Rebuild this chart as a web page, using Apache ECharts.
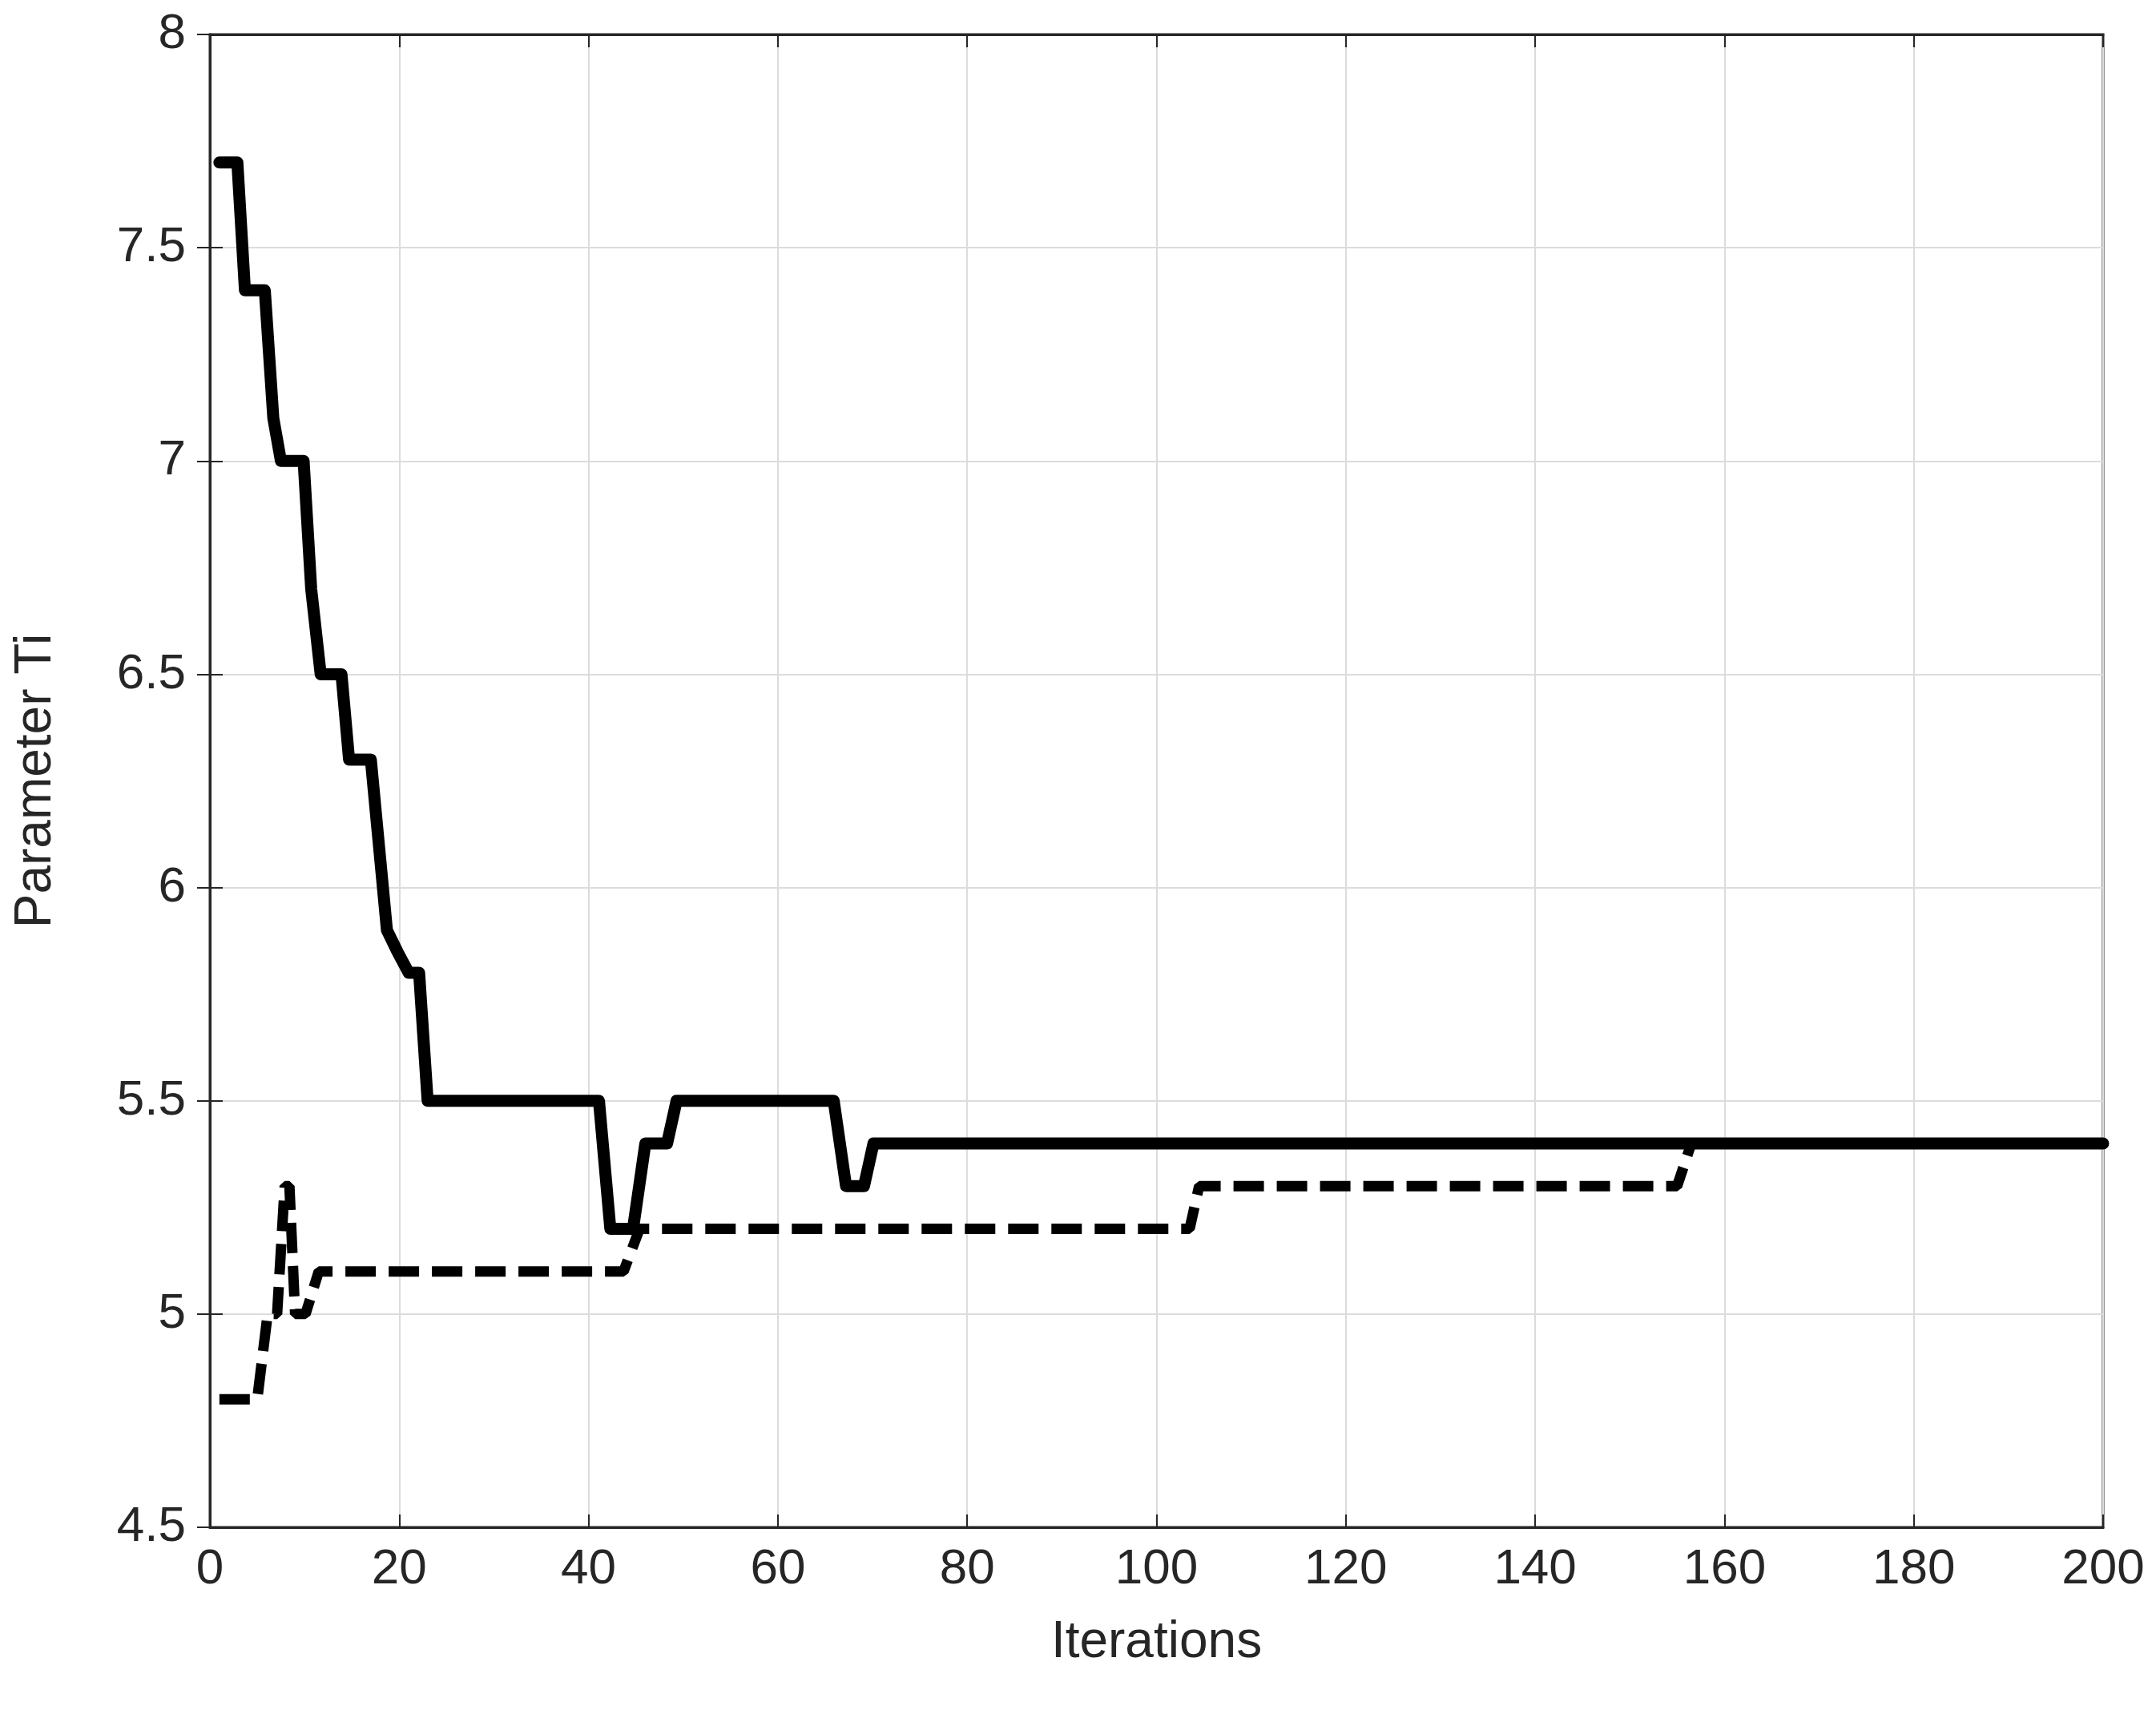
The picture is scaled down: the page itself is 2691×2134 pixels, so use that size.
<!DOCTYPE html>
<html><head><meta charset="utf-8">
<script src="https://cdn.jsdelivr.net/npm/echarts@6/dist/echarts.min.js"></script>
<style>html,body{margin:0;padding:0;background:#fff}#c{width:2691px;height:2134px}</style>
</head><body><div id="c"></div>
<script>
const solidX = [1, 2.9, 3.7, 5.8, 6.7, 7.5, 9.9, 10.7, 11.7, 13.9, 14.7, 17, 18.7, 19.8, 21, 22.1, 23, 41.1, 42.3, 44.7, 46, 48.3, 49.3, 65.9, 67.2, 69.1, 70.1, 200];
const solidY = [7.7, 7.7, 7.4, 7.4, 7.1, 7.0, 7.0, 6.7, 6.5, 6.5, 6.3, 6.3, 5.9, 5.85, 5.8, 5.8, 5.5, 5.5, 5.2, 5.2, 5.4, 5.4, 5.5, 5.5, 5.3, 5.3, 5.4, 5.4];
const dashX = [1, 5, 6.1, 7.1, 7.9, 8.4, 9, 10.1, 11.5, 43.7, 45.4, 103.5, 104.5, 155, 156.5, 200];
const dashY = [4.8, 4.8, 5.0, 5.0, 5.3, 5.3, 5.0, 5.0, 5.1, 5.1, 5.2, 5.2, 5.3, 5.3, 5.4, 5.4];
const xTicks = [0, 20, 40, 60, 80, 100, 120, 140, 160, 180, 200];
const yTicks = [4.5, 5, 5.5, 6, 6.5, 7, 7.5, 8];
const xName = 'Iterations', yName = 'Parameter Ti';

const chart = echarts.init(document.getElementById('c'));
const pair = (xs, ys) => xs.map((x, i) => [x, ys[i]]);
const axisCommon = {
  axisLine: {show: true, lineStyle: {color: '#262626', width: 3}},
  axisTick: {show: true, inside: true, length: 16, lineStyle: {color: '#262626', width: 2}},
  splitLine: {show: true, lineStyle: {color: '#dcdcdc', width: 2}},
  axisLabel: {color: '#262626', fontSize: 62, fontFamily: 'Liberation Sans, Arial, sans-serif'},
  nameTextStyle: {color: '#262626', fontSize: 64, fontFamily: 'Liberation Sans, Arial, sans-serif'}
};
chart.setOption({
  animation: false,
  backgroundColor: '#fff',
  grid: {left: 262, right: 66, top: 43, bottom: 228, show: true, borderColor: '#262626', borderWidth: 3, backgroundColor: 'transparent'},
  xAxis: [
    Object.assign({}, axisCommon, {type: 'value', min: xTicks[0], max: xTicks[xTicks.length-1], interval: 20,
      name: xName, nameLocation: 'middle', nameGap: 112,
      axisLabel: Object.assign({}, axisCommon.axisLabel, {margin: 22, formatter: v => xTicks.includes(v) ? String(v) : ''})}),
    {type: 'value', position: 'top', min: 0, max: 200, interval: 20, axisLine: {show: true, lineStyle: {color: '#262626', width: 3}},
      axisTick: {show: true, inside: true, length: 16, lineStyle: {color: '#262626', width: 2}}, axisLabel: {show: false}, splitLine: {show: false}}
  ],
  yAxis: [
    Object.assign({}, axisCommon, {type: 'value', min: 4.5, max: 8, interval: 0.5,
      name: yName, nameLocation: 'middle', nameGap: 185,
      axisLabel: Object.assign({}, axisCommon.axisLabel, {margin: 30, formatter: v => yTicks.includes(v) ? String(v) : ''})}),
    {type: 'value', position: 'right', min: 4.5, max: 8, interval: 0.5, axisLine: {show: true, lineStyle: {color: '#262626', width: 3}},
      axisTick: {show: true, inside: true, length: 16, lineStyle: {color: '#262626', width: 2}}, axisLabel: {show: false}, splitLine: {show: false}}
  ],
  series: [
    {type: 'line', data: pair(solidX, solidY), symbol: 'none', lineStyle: {color: '#000', width: 15, join: 'round', cap: 'round'}},
    {type: 'line', data: pair(dashX, dashY), symbol: 'none', lineStyle: {color: '#000', width: 13, type: [38, 16]}}
  ]
});
</script></body></html>
